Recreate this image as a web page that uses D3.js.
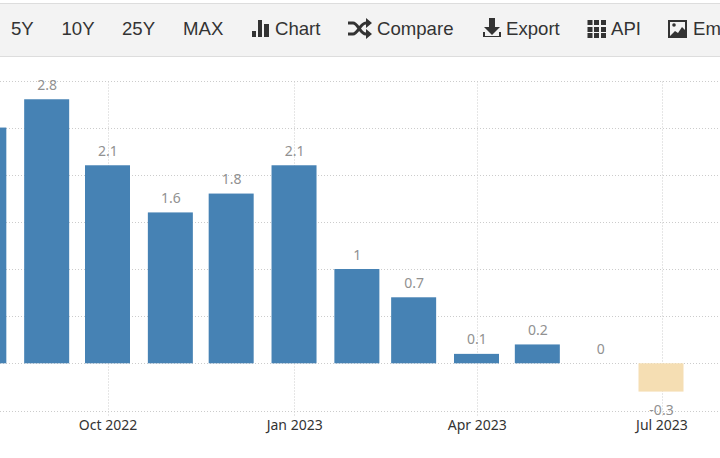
<!DOCTYPE html>
<html><head><meta charset="utf-8">
<style>html,body{margin:0;padding:0;background:#fff;overflow:hidden}svg{display:block}</style>
<script src="https://cdn.jsdelivr.net/npm/d3@7"></script></head><body>
<svg id="c" width="720" height="458"></svg>
<script>
const months=["2022-08-01","2022-09-01","2022-10-01","2022-11-01","2022-12-01","2023-01-01","2023-02-01","2023-03-01","2023-04-01","2023-05-01","2023-06-01","2023-07-01"];
const values=[2.5,2.8,2.1,1.6,1.8,2.1,1,0.7,0.1,0.2,0,-0.3];
const yTicks=[-0.5,0,0.5,1,1.5,2,2.5,3];
const xTicks=["2022-10-01","2023-01-01","2023-04-01","2023-07-01"];
const xLabels=["Oct 2022","Jan 2023","Apr 2023","Jul 2023"];
const menu=["5Y","10Y","25Y","MAX","Chart","Compare","Export","API","Em"];

const svg=d3.select("#c");
const parse=d3.utcParse("%Y-%m-%d");
const x=d3.scaleUtc().domain([parse("2022-10-01"),parse("2023-07-01")]).range([107.5,661]);
const xAxis=x.copy().range([108,662]);
const y=d3.scaleLinear().domain([-0.5,3]).range([410.45,80.4]);
const ink="#333";

// toolbar
svg.append("rect").attr("x",-1).attr("y",3.5).attr("width",722).attr("height",53).attr("fill","#f3f3f3").attr("stroke","#ddd");
const menuX=[11,61.5,122,183,275,377,506,611,693];
svg.selectAll("text.menu").data(menu).join("text").attr("class","menu")
  .attr("x",(d,i)=>menuX[i]).attr("y",35).attr("fill",ink)
  .style("font","18.6px 'Liberation Sans',Arial,sans-serif").text(d=>d);
const ic=svg.append("g").attr("fill",ink);
ic.append("path").attr("d","M252 31h4v6h-4zM258 20h4v17h-4zM264 24h5v13h-5z");
ic.append("path").attr("fill","none").attr("stroke",ink).attr("stroke-width",3).attr("d","M348 23h5c5 0 7 11 13 11h2M348 34h5c5 0 7-11 13-11h2");
ic.append("path").attr("d","M366 18l6 5-6 5zM366 29l6 5-6 5z");
ic.append("path").attr("d","M489 18h6v9h5l-8 8-8-8h5zM483 32h2v4h14v-4h2v5h-18z");
ic.append("g").selectAll("rect").data(d3.cross([587.5,594,601],[20,27,33])).join("rect")
  .attr("x",d=>d[0]).attr("y",d=>d[1]).attr("width",5).attr("height",5);
ic.append("path").attr("fill-rule","evenodd").attr("d","M668 20h19v18h-19zM670 22v14h15v-14z");
ic.append("path").attr("d","M669 37l6-6 3 2 4-6 4 4v6z");
ic.append("circle").attr("cx",674).attr("cy",25).attr("r",1.8);

// grid
const snapY=v=>Math.round(y(v)+0.1)+.5;
const snapX=d=>Math.floor(xAxis(parse(d)))+.5;
const grid=svg.append("g").attr("stroke","#ccc").attr("stroke-dasharray","1 2").attr("fill","none");
grid.selectAll("line.h").data(yTicks).join("line").attr("class","h")
  .attr("x1",0).attr("x2",720).attr("y1",snapY).attr("y2",snapY);
grid.selectAll("line.v").data(xTicks).join("line").attr("class","v")
  .attr("x1",snapX).attr("x2",snapX)
  .attr("y1",snapY(3)).attr("y2",snapY(-0.5)+4);

// bars
const bw=45;
const pts=months.map((m,i)=>({d:parse(m),v:values[i]}));
svg.append("g").selectAll("rect").data(pts.filter(p=>p.v!==0)).join("rect")
  .attr("x",p=>x(p.d)-bw/2).attr("width",bw)
  .attr("y",p=>Math.min(y(p.v),y(0))).attr("height",p=>Math.abs(y(p.v)-y(0)))
  .attr("fill",p=>p.v<0?"#f5deb3":"#4682b4");

// value labels (the first bar's label lies past the left edge, as in the reference)
svg.append("g").selectAll("text").data(pts.filter(p=>x(p.d)>0)).join("text")
  .attr("x",p=>x(p.d)+.5).attr("y",p=>p.v<0?y(p.v)+23:y(p.v)-9.5)
  .attr("text-anchor","middle").attr("fill","#919191")
  .style("font","14px 'Noto Sans',sans-serif")
  .text(p=>p.v);

// x labels
svg.append("g").selectAll("text").data(xTicks).join("text")
  .attr("x",d=>xAxis(parse(d))).attr("y",430).attr("text-anchor","middle").attr("fill","#333")
  .style("font","14px 'Noto Sans',sans-serif")
  .text((d,i)=>xLabels[i]);
</script></body></html>
